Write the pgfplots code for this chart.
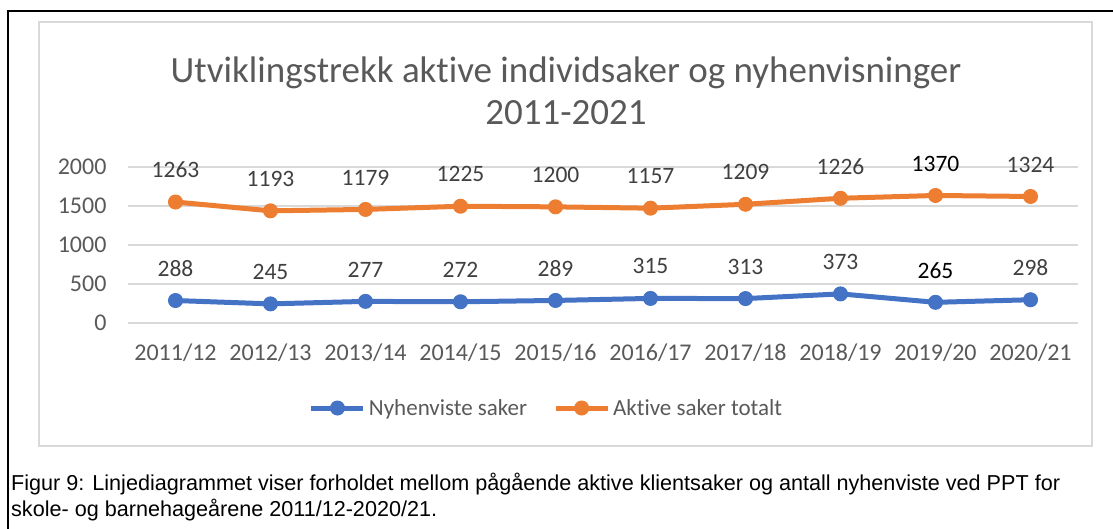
\documentclass[border=0pt]{standalone}
\usepackage{pgfplots}
\pgfplotsset{compat=1.18}
\usepackage{fontspec}
\setmainfont{Carlito}[Ligatures=NoCommon]
\newfontfamily\arial{Liberation Sans}
\definecolor{blueS}{HTML}{4472C4}
\definecolor{orangeS}{HTML}{ED7D31}
\definecolor{txt}{HTML}{595959}
\definecolor{lbl}{HTML}{404040}
\definecolor{gridc}{HTML}{D9D9D9}
\begin{document}
\begin{tikzpicture}[x=1pt,y=1pt]
\useasboundingbox (0,0) rectangle (1113,529);
% outer frame and chart border
\draw[black, line width=2pt] (7.5,0) -- (7.5,518) -- (1113,518);
\draw[gridc, line width=1.5pt] (39,83) rectangle (1092,507);
% title
\node[txt, align=center, font=\fontsize{37}{42}\selectfont] at (566,438)
  {Utviklingstrekk aktive individsaker og nyhenvisninger\\2011-2021};
\begin{axis}[
  at={(128pt,206pt)}, anchor=south west,
  scale only axis, width=950pt, height=156pt,
  xmin=-0.5, xmax=9.5, ymin=0, ymax=2000,
  ytick={0,500,1000,1500,2000},
  xtick={0,...,9},
  xticklabels={2011/12,2012/13,2013/14,2014/15,2015/16,2016/17,2017/18,2018/19,2019/20,2020/21},
  axis line style={draw=none},
  major tick length=0pt,
  ymajorgrids,
  grid style={gridc, line width=1.5pt},
  tick label style={txt, font=\fontsize{24}{27}\selectfont},
  /pgf/number format/assume math mode=true,
  /pgf/number format/1000 sep={},
  yticklabel style={xshift=-18pt},
  xticklabel style={yshift=-17pt},
  clip=false,
  stack plots=y,
  point meta=explicit symbolic,
  nodes near coords={\pgfplotspointmeta},
  nodes near coords style={lbl, anchor=center, yshift=32pt, font=\fontsize{23.5}{27}\selectfont},
  legend columns=2,
  legend style={at={(0.4405,-0.545)}, anchor=center, draw=none, fill=none,
    font=\fontsize{23}{27}\selectfont, text=txt,
    /tikz/every odd column/.append style={column sep=1pt},
    /tikz/every even column/.append style={column sep=24pt}},
  legend image code/.code={\draw[#1, mark repeat=2, mark phase=2] plot coordinates {(0pt,0pt) (26pt,0pt) (52pt,0pt)};},
  legend cell align=left,
]
\addplot[blueS, line width=5pt, mark=*, mark size=7pt, mark options={line width=1pt, fill=blueS}] coordinates {
  (0,288) [288]
  (1,245) [245]
  (2,277) [277]
  (3,272) [272]
  (4,289) [289]
  (5,315) [315]
  (6,313) [313]
  (7,373) [373]
  (8,265) [\textcolor{black}{265}]
  (9,298) [298]
};
\addlegendentry{Nyhenviste saker}
\addplot[orangeS, line width=5pt, mark=*, mark size=7pt, mark options={line width=1pt, fill=orangeS}] coordinates {
  (0,1263) [1263]
  (1,1193) [1193]
  (2,1179) [1179]
  (3,1225) [1225]
  (4,1200) [1200]
  (5,1157) [1157]
  (6,1209) [1209]
  (7,1226) [1226]
  (8,1370) [\textcolor{black}{1370}]
  (9,1324) [1324]
};
\addlegendentry{Aktive saker totalt}
\end{axis}
% caption
\node[anchor=base west, inner sep=0pt, font=\arial\fontsize{21.6}{26}\selectfont] at (11,38)
  {Figur 9: Linjediagrammet viser forholdet mellom pågående aktive klientsaker og antall nyhenviste ved PPT for};
\node[anchor=base west, inner sep=0pt, font=\arial\fontsize{21.6}{26}\selectfont] at (11,12)
  {skole- og barnehageårene 2011/12-2020/21.};
\end{tikzpicture}
\end{document}
